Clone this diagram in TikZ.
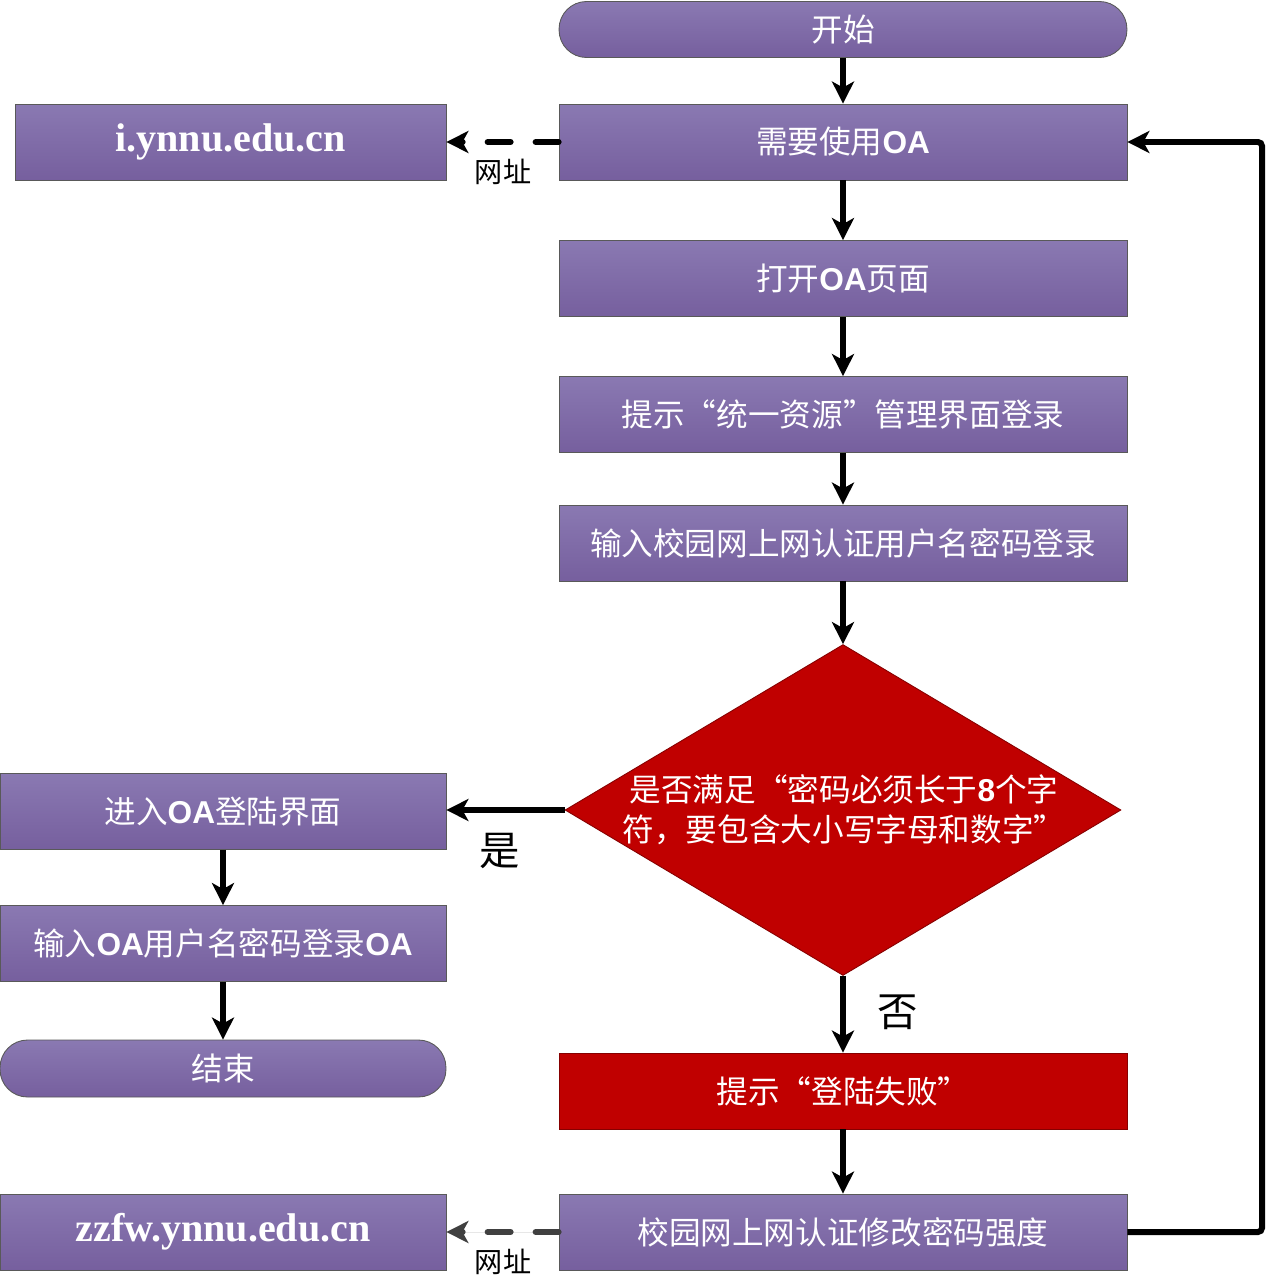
\documentclass[tikz,border=0pt]{standalone}
\usepackage{fontspec}
\setmainfont{Noto Sans CJK SC}
\newfontfamily\latf{Liberation Sans}
\newfontfamily\urlf{Liberation Serif}
\usetikzlibrary{shapes.geometric,arrows.meta}
\definecolor{purT}{HTML}{8A79B2}
\definecolor{purB}{HTML}{765F9E}
\definecolor{redF}{HTML}{C00000}
\definecolor{dgray}{HTML}{404040}
\newcommand{\OA}{{\latf\bfseries OA}}
\begin{document}
\begin{tikzpicture}[x=0.02cm,y=-0.02cm,
  basebox/.style={rectangle, draw=black!65, line width=0.5pt, inner sep=0pt, text=white,
    font=\fontsize{18}{22}\selectfont},
  pbox/.style={basebox, top color=purT, bottom color=purB, minimum width=11.36cm, minimum height=1.52cm},
  lbox/.style={basebox, top color=purT, bottom color=purB, minimum width=8.92cm, minimum height=1.52cm},
  rbox/.style={basebox, fill=redF, draw=redF!70!black, minimum width=11.36cm, minimum height=1.52cm},
  term/.style={pbox, rounded corners=0.55cm, minimum height=1.12cm},
  urlbox/.style={lbox, font=\urlf\bfseries\fontsize{22.8}{26}\selectfont},
  arr/.style={line width=3.4pt, -{Stealth[length=0.44cm,width=0.44cm,inset=0.12cm]}},
  darr/.style={arr, dash pattern=on 0.46cm off 0.5cm, line cap=round},
  lab/.style={text=black, inner sep=0pt, font=\fontsize{16}{18}\selectfont},
  biglab/.style={text=black, inner sep=0pt, font=\fontsize{23}{26}\selectfont}
]
\useasboundingbox (0,0) rectangle (1269,1285);

\node[term] (start) at (843,29.5) {开始};
\node[pbox] (need) at (843,142) {需要使用\OA};
\node[urlbox, minimum width=8.62cm] (url1) at (230.5,142) {i.ynnu.edu.cn};
\node[pbox] (open) at (843,278.5) {打开\OA 页面};
\node[pbox] (hint) at (843,414.5) {提示“统一资源”管理界面登录};
\node[pbox] (input) at (843,543) {输入校园网上网认证用户名密码登录};
\node[diamond, fill=redF, draw=redF!70!black, line width=0.5pt, inner sep=0pt,
      minimum width=11.12cm, minimum height=6.62cm] (dec) at (843,810) {};
\node[text=white, align=center, inner sep=0pt, font=\fontsize{18}{22.7}\selectfont] (dtext) at (844,810)
  {是否满足“密码必须长于{\latf\bfseries 8}个字\\符，要包含大小写字母和数字”};
\node[lbox] (enter) at (223,811.5) {进入\OA 登陆界面};
\node[lbox] (login) at (223,943.5) {输入\OA 用户名密码登录\OA};
\node[term, minimum width=8.92cm, minimum height=1.14cm] (end) at (223,1068.5) {结束};
\node[rbox] (fail) at (843,1091) {提示“登陆失败”};
\node[pbox] (fix) at (843,1232) {校园网上网认证修改密码强度};
\node[urlbox] (url2) at (223,1232) {zzfw.ynnu.edu.cn};

\coordinate (loopx) at (1262,0);

\draw[arr] (start) -- (need);
\draw[darr] (need.west) -- (url1.east);
\node[lab] (w1) at (503,172) {网址};
\draw[arr] (need) -- (open);
\draw[arr] (open) -- (hint);
\draw[arr] (hint) -- (input);
\draw[arr] (input) -- (dec.north);
\draw[arr] (dec.west) -- (dec.west -| enter.east);
\node[biglab] (yes) at (500,851) {是};
\draw[arr] (enter) -- (login);
\draw[arr] (login) -- (end);
\draw[arr] (dec.south) -- (fail.north);
\node[biglab] (no) at (898,1012) {否};
\draw[arr] (fail) -- (fix);
\draw[darr, draw=dgray, fill=dgray] (fix.west) -- (url2.east);
\node[lab] (w2) at (503,1262) {网址};
\draw[arr, rounded corners=0.08cm] (fix.east) -- (fix.east -| loopx) -- (need.east -| loopx) -- (need.east);
\end{tikzpicture}
\end{document}
